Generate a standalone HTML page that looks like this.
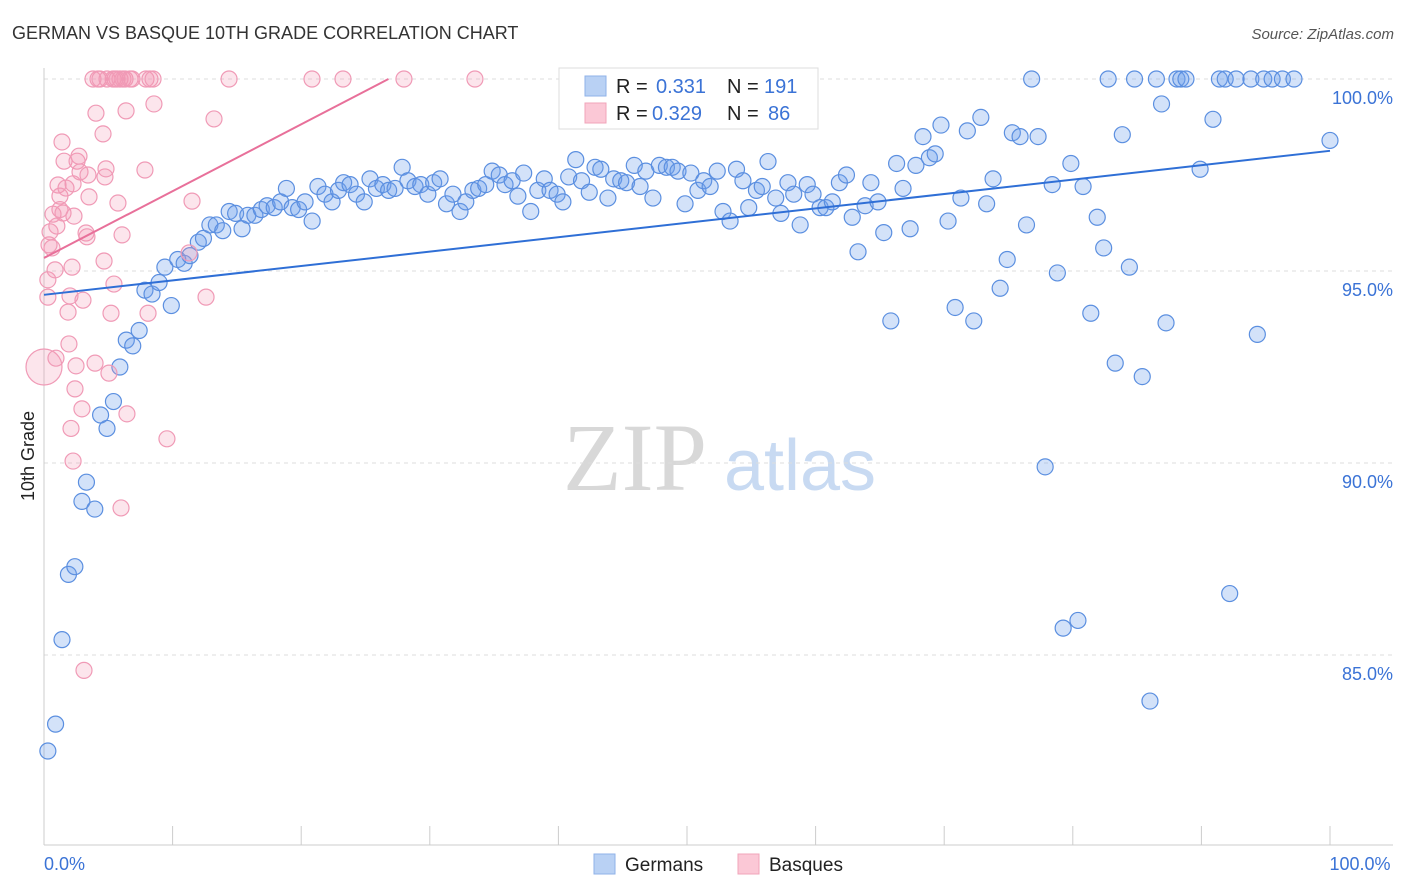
<!DOCTYPE html>
<html><head><meta charset="utf-8"><style>
body{margin:0;background:#fff;font-family:"Liberation Sans",sans-serif;}
svg{display:block}
</style></head><body>
<svg id="chart" width="1406" height="892">
<text x="12" y="39" font-size="18" fill="#333">GERMAN VS BASQUE 10TH GRADE CORRELATION CHART</text>
<text x="1394" y="39" font-size="15" fill="#555" font-style="italic" text-anchor="end">Source: ZipAtlas.com</text>
<g>
<text x="635" y="490" font-size="96" fill="#d8d8d8" font-family="Liberation Serif,serif" text-anchor="middle">ZIP</text>
<text x="800" y="490" font-size="72" fill="#c8daf2" text-anchor="middle">atlas</text>
</g>
<g id="grid"></g>
<g id="axes"></g>
<g id="pts"></g>
<g id="trend"></g>
<text transform="translate(34,456) rotate(-90)" font-size="18" fill="#222" text-anchor="middle">10th Grade</text>
<g>
<rect x="559" y="68" width="259" height="61" fill="#fff" stroke="#ddd"/>
<rect x="585" y="76" width="21" height="20" fill="#b9d1f4" stroke="#8fb2e8"/>
<rect x="585" y="103" width="21" height="20" fill="#fbc8d6" stroke="#f0a4ba"/>
<g font-size="20" fill="#222">
<text x="616" y="93">R =</text><text x="656" y="93" fill="#3b73d6">0.331</text><text x="727" y="93">N =</text><text x="764" y="93" fill="#3b73d6">191</text>
<text x="616" y="120">R =</text><text x="652" y="120" fill="#3b73d6">0.329</text><text x="727" y="120">N =</text><text x="768" y="120" fill="#3b73d6">86</text>
</g>
</g>
<g>
<rect x="594" y="854" width="21" height="20" fill="#b9d1f4" stroke="#8fb2e8"/>
<text x="625" y="871" font-size="19" fill="#222">Germans</text>
<rect x="738" y="854" width="21" height="20" fill="#fbc8d6" stroke="#f0a4ba"/>
<text x="769" y="871" font-size="19" fill="#222">Basques</text>
</g>
</svg>
<script>
const yTicks=[100,95,90,85];
const yTickLabels=["100.0%","95.0%","90.0%","85.0%"];
const xTicks=[0,10,20,30,40,50,60,70,80,90,100];
const xEndLabels=["0.0%","100.0%"];
const germanX=[0.3,0.9,1.4,1.9,2.4,2.95,3.3,3.95,4.4,4.9,5.4,5.9,6.4,6.9,7.4,7.85,8.4,8.95,9.9,9.4,10.4,10.9,11.35,12,12.4,12.9,13.4,13.9,14.4,14.9,15.4,15.85,16.4,16.9,17.35,17.9,18.4,18.85,19.3,19.8,20.3,20.85,21.3,21.85,22.4,22.9,23.3,23.8,24.3,24.9,25.35,25.85,26.35,26.8,27.3,27.85,28.3,28.85,29.3,29.85,30.3,30.8,31.3,31.8,32.35,32.8,33.35,33.8,34.35,34.85,35.4,35.85,36.4,36.85,37.3,37.85,38.4,38.9,39.35,39.9,40.35,40.8,41.35,41.8,42.4,42.85,43.3,43.85,44.3,44.85,45.3,45.9,46.35,46.8,47.35,47.85,48.4,48.85,49.3,49.85,50.3,50.85,51.3,51.8,52.35,52.8,53.35,53.85,54.35,54.8,55.4,55.85,56.3,56.9,57.3,57.85,58.3,58.8,59.35,59.8,60.35,60.8,61.3,61.85,62.4,62.85,63.3,63.85,64.3,64.85,65.3,65.85,66.3,66.8,67.35,67.8,68.35,68.85,69.3,69.75,70.3,70.85,71.3,71.8,72.3,72.85,73.3,73.8,74.35,74.9,75.3,75.9,76.4,76.8,77.3,77.85,78.4,78.8,79.25,79.85,80.4,80.8,81.4,81.9,82.4,82.75,83.3,83.85,84.4,84.8,85.4,86.0,86.5,86.9,87.25,88.1,88.4,88.8,89.9,90.9,91.4,91.85,92.2,92.7,93.85,94.35,94.85,95.5,96.3,97.2,100];
const germanY=[82.5,83.2,85.4,87.1,87.3,89.0,89.5,88.8,91.25,90.9,91.6,92.5,93.2,93.05,93.45,94.5,94.4,94.7,94.1,95.1,95.3,95.2,95.4,95.75,95.85,96.2,96.2,96.05,96.55,96.5,96.1,96.45,96.45,96.6,96.7,96.65,96.8,97.15,96.65,96.6,96.8,96.3,97.2,97.0,96.8,97.1,97.3,97.25,97.0,96.8,97.4,97.15,97.25,97.1,97.15,97.7,97.35,97.2,97.25,97.0,97.3,97.4,96.75,97.0,96.55,96.8,97.1,97.15,97.25,97.6,97.5,97.25,97.35,96.95,97.55,96.55,97.1,97.4,97.1,97.0,96.8,97.45,97.9,97.35,97.05,97.7,97.65,96.9,97.4,97.35,97.3,97.75,97.2,97.6,96.9,97.75,97.7,97.7,97.6,96.75,97.55,97.1,97.35,97.2,97.6,96.55,96.3,97.65,97.35,96.65,97.1,97.2,97.85,96.9,96.5,97.3,97.0,96.2,97.25,97.0,96.65,96.65,96.8,97.3,97.5,96.4,95.5,96.7,97.3,96.8,96.0,93.7,97.8,97.15,96.1,97.75,98.5,97.95,98.05,98.8,96.3,94.05,96.9,98.65,93.7,99.0,96.75,97.4,94.55,95.3,98.6,98.5,96.2,100,98.5,89.9,97.25,94.95,85.7,97.8,85.9,97.2,93.9,96.4,95.6,100,92.6,98.55,95.1,100,92.25,83.8,100,99.35,93.65,100,100,100,97.65,98.95,100,100,86.6,100,100,93.35,100,100,100,100,98.4];
const basqueX=[0.3,0,0.3,0.47,0.62,0.7,0.86,0.93,1.0,1.09,1.24,1.4,1.48,1.56,1.71,1.87,1.94,2.02,2.18,2.26,2.33,2.41,2.49,2.57,2.72,2.8,2.95,3.03,3.11,3.27,3.34,3.42,3.5,3.81,3.97,4.04,4.2,4.35,4.59,4.67,4.74,4.82,4.9,5.05,5.21,5.37,5.44,5.52,5.68,5.75,5.91,5.99,6.07,6.14,6.3,6.38,6.45,6.69,6.84,7.85,7.93,8.09,8.24,8.48,8.55,9.56,11.51,11.28,12.6,13.22,14.39,20.84,23.25,27.99,33.51,2.26,2.1,0.39,1.24];
const basqueY=[94.32,92.5,94.77,96.02,95.6,96.48,95.03,92.73,96.17,97.24,96.95,98.36,96.51,97.86,97.16,93.93,93.1,94.35,95.1,97.27,96.43,91.93,92.53,97.86,97.99,97.58,91.41,94.24,84.6,95.99,95.89,97.5,96.93,100,92.6,99.11,100,100,98.57,95.26,97.45,97.66,100,92.34,93.9,100,94.66,100,100,96.77,100,88.83,95.94,100,100,99.17,91.28,100,100,97.63,100,93.9,100,100,99.35,90.63,96.82,95.47,94.32,98.96,100,100,100,100,100,90.05,90.9,95.68,96.6];
const germanTrend=[94.38,98.13];
const basqueTrend=[95.34,100];

const NS="http://www.w3.org/2000/svg";
const X0=44,X1=1330,Y100=79,PXPCT=38.4;
const sx=v=>X0+(X1-X0)*v/100;
const sy=v=>Y100+(100-v)*PXPCT;
function mk(tag,attrs,parent){const e=document.createElementNS(NS,tag);for(const k in attrs)e.setAttribute(k,attrs[k]);document.getElementById(parent).appendChild(e);return e;}

yTicks.forEach((t,i)=>{
  const l=mk('line',{x1:X0,x2:1393,y1:sy(t),y2:sy(t),stroke:'#ddd','stroke-dasharray':'4,4'},'grid');
  
  
  const tx=mk('text',{x:1393,y:sy(t)+25,'font-size':18,fill:'#3b73d6','text-anchor':'end'},'axes');
  tx.textContent=yTickLabels[i];
  
  
});
const ya=mk('line',{x1:X0,x2:X0,y1:68,y2:845,stroke:'#ccc'},'axes');


const xa=mk('line',{x1:X0,x2:1393,y1:845,y2:845,stroke:'#ccc'},'axes');


xTicks.forEach(t=>{
  const l=mk('line',{x1:sx(t),x2:sx(t),y1:826,y2:845,stroke:'#ccc'},'axes');
  
  
});
[[0,'start'],[100,'middle']].forEach((p,i)=>{
  const t=mk('text',{x:i?sx(p[0])+30:X0,y:870,'font-size':18,fill:'#3b73d6','text-anchor':i?'middle':'start'},'axes');
  t.textContent=xEndLabels[i];
  
  
});

germanX.forEach((x,i)=>{
  const c=mk('circle',{cx:sx(x),cy:sy(germanY[i]),r:8,fill:'rgba(110,160,235,0.3)',stroke:'#5b8fe0','stroke-width':1.2},'pts');
  
  
});
basqueX.forEach((x,i)=>{
  const c=mk('circle',{cx:sx(x),cy:sy(basqueY[i]),r:i===1?18:8,fill:'rgba(245,150,180,0.25)',stroke:'#f09ab6','stroke-width':1.2},'pts');
  
  
});
const g=mk('line',{x1:sx(0),y1:sy(germanTrend[0]),x2:sx(100),y2:sy(germanTrend[1]),stroke:'#2f6fd6','stroke-width':2},'trend');


const bEnd=(basqueTrend[1]-basqueTrend[0])/0.174;
const b=mk('line',{x1:sx(0),y1:sy(basqueTrend[0]),x2:sx(bEnd),y2:sy(basqueTrend[1]),stroke:'#e8709a','stroke-width':2},'trend');


</script>
</body></html>
